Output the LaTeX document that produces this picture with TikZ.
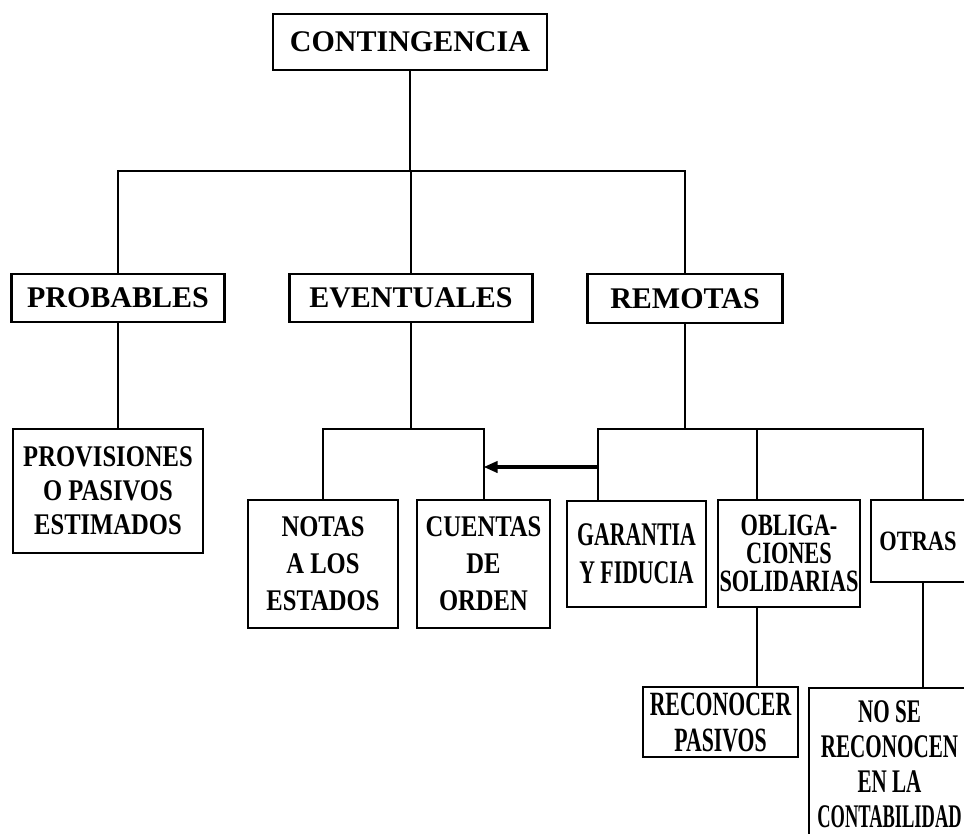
\documentclass[tikz,border=0pt]{standalone}
\usepackage{fontspec}
\setmainfont{Liberation Serif}
\newfontfamily\condA[FakeStretch=0.82]{Liberation Serif}
\newfontfamily\condB[FakeStretch=0.66]{Liberation Serif}
\newfontfamily\condD[FakeStretch=0.72]{Liberation Serif}
\newfontfamily\condE[FakeStretch=0.64]{Liberation Serif}
\newfontfamily\condF[FakeStretch=0.56]{Liberation Serif}
\newfontfamily\condG[FakeStretch=0.8]{Liberation Serif}
\usetikzlibrary{arrows.meta}
\begin{document}
\begin{tikzpicture}[x=1pt,y=-1pt,
  line/.style={line width=2pt},
  box/.style={draw, line width=2.4pt, inner sep=0pt, align=center, fill=white},
  topbox/.style={box, font=\bfseries\fontsize{30}{34}\selectfont},
  midbox/.style={box, font=\condA\bfseries\fontsize{30}{37}\selectfont},
  narbox/.style={box, font=\condB\bfseries\fontsize{33}{38}\selectfont},
  arr/.style={line width=3.6pt, -{Triangle[length=14pt,width=11pt]}}
]
\useasboundingbox (0,0) rectangle (964,834);
% top
\node[topbox, minimum width=274pt, minimum height=56pt] (cont) at (410,42) {CONTINGENCIA};
\node[topbox, minimum width=213pt, minimum height=48pt] (prob) at (118,298) {PROBABLES};
\node[topbox, minimum width=243pt, minimum height=48pt] (even) at (411,298) {EVENTUALES};
\node[topbox, minimum width=195pt, minimum height=49pt] (rem) at (685,298.5) {REMOTAS};
% second row
\node[midbox, font=\condA\bfseries\fontsize{30}{34}\selectfont, minimum width=190pt, minimum height=124pt] (prov) at (108,491) {PROVISIONES\\O PASIVOS\\ESTIMADOS};
\node[midbox, minimum width=150pt, minimum height=128pt] (notas) at (323,564) {NOTAS\\A LOS\\ESTADOS};
\node[midbox, minimum width=133pt, minimum height=128pt] (cuentas) at (483.5,564) {CUENTAS\\DE\\ORDEN};
\node[narbox, minimum width=139pt, minimum height=106pt] (gar) at (636.5,554) {GARANTIA\\Y FIDUCIA};
\node[box, font=\condD\bfseries\fontsize{31}{28}\selectfont, minimum width=142pt, minimum height=107pt] (obl) at (789,553.5) {OBLIGA-\\CIONES\\SOLIDARIAS};
\node[box, font=\condG\bfseries\fontsize{28}{32}\selectfont, minimum width=104pt, minimum height=82pt, text width=96pt] (otras) at (923,541) {\hspace*{-10pt}OTRAS};
% third row
\node[box, font=\condE\bfseries\fontsize{34}{36}\selectfont, minimum width=155pt, minimum height=70pt] (recon) at (720.5,722) {RECONOCER\\PASIVOS};
\node[box, font=\condE\bfseries\fontsize{33}{35}\selectfont, minimum width=161pt, minimum height=152pt] (nose) at (889.5,764) {NO SE\\RECONOCEN\\EN LA\\{\condF CONTABILIDAD}};
% junctions
\coordinate (j1) at (410,171);
\coordinate (j2) at (411,429);
\coordinate (ga) at (598,429);
\coordinate (oa) at (757,429);
\coordinate (ta) at (923,429);
\coordinate (ar) at (598,467);
% connectors
\draw[line] (cont.south) -- (j1);
\draw[line] (prob.north) |- (j1) -| (rem.north);
\draw[line] (even.north) -- (even.north |- j1);
\draw[line] (prob.south) -- (prob.south |- prov.north);
\draw[line] (even.south) -- (j2);
\draw[line] (notas.north) |- (j2) -| (cuentas.north);
\draw[line] (rem.south) -- (rem.south |- ga);
\draw[line] (ga |- gar.north) -- (ga) -- (ta) -- (ta |- otras.north);
\draw[line] (oa) -- (oa |- obl.north);
\draw[line] (oa |- obl.south) -- (oa |- recon.north);
\draw[line] (ta |- otras.south) -- (ta |- nose.north);
\draw[arr] (ar) -- (ar -| cuentas.north);
\end{tikzpicture}
\end{document}
